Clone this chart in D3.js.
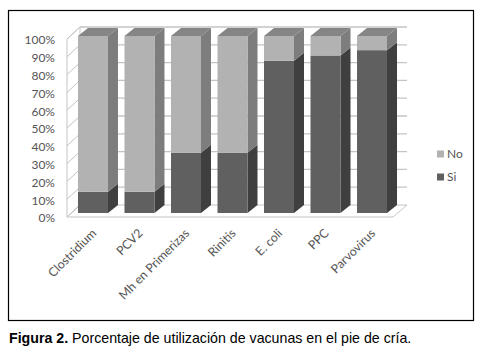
<!DOCTYPE html>
<html><head><meta charset="utf-8">
<script src="https://cdn.jsdelivr.net/npm/d3@7/dist/d3.min.js"></script>
<style>body{margin:0;background:#fff}svg{display:block}</style>
</head><body>
<svg id="c" width="482" height="360"></svg>
<script>
const categories = ["Clostridium","PCV2","Mh en Primerizas","Rinitis","E. coli","PPC","Parvovirus"];
const siValues = [12,12,34,34,86,89,92];
const noValues = [88,88,66,66,14,11,8];
const tickValues = [0,10,20,30,40,50,60,70,80,90,100];
const seriesNames = ["No","Si"];

const svg = d3.select("#c");
const font = "Lato, 'Open Sans', sans-serif";
const col = {
  No: {front:"#b2b2b2", side:"#7d7d7d", top:"#858585"},
  Si: {front:"#606060", side:"#3f3f3f", top:"#6e6e6e"}
};

// frame
svg.append("rect").attr("x",8.5).attr("y",10.5).attr("width",465).attr("height",310)
  .attr("fill","none").attr("stroke","#000").attr("stroke-width",1.2);

// wall geometry
const wx0 = 67, wx1 = 393, ddx = 13, ddy = -12;
const yWall = d3.scaleLinear().domain([0,100]).range([217,39]);
const g = svg.append("g");
const wallStroke = "#c4c4c4";
g.append("path").attr("d",`M${wx0},${yWall(0)}L${wx0},${yWall(100)}L${wx0+ddx},${yWall(100)+ddy}L${wx0+ddx},${yWall(0)+ddy}Z`)
  .attr("fill","#fff").attr("stroke",wallStroke);
g.append("path").attr("d",`M${wx0},${yWall(0)}L${wx1},${yWall(0)}L${wx1+ddx+1},${yWall(0)+ddy}L${wx0+ddx},${yWall(0)+ddy}Z`)
  .attr("fill","#fff").attr("stroke",wallStroke);
g.append("line").attr("x1",wx0+ddx).attr("x2",wx1+ddx+1).attr("y1",yWall(100)+ddy).attr("y2",yWall(100)+ddy)
  .attr("stroke",wallStroke).attr("stroke-width",1.5);
tickValues.forEach(t=>{
  if(t>0 && t<100){
    g.append("line").attr("x1",wx0+ddx).attr("x2",wx1+ddx+1).attr("y1",yWall(t)+ddy).attr("y2",yWall(t)+ddy)
      .attr("stroke",wallStroke).attr("stroke-width",1.3);
  }
  g.append("line").attr("x1",wx0).attr("x2",wx0+ddx).attr("y1",yWall(t)).attr("y2",yWall(t)+ddy)
    .attr("stroke",wallStroke).attr("stroke-width",1);
});

// y axis labels
const yAxis = d3.axisLeft(yWall).tickValues(tickValues).tickFormat(d=>d+"%").tickSize(0).tickPadding(0);
const ya = svg.append("g").attr("transform","translate(55,1)").call(yAxis);
ya.select(".domain").remove();
ya.selectAll("text").attr("font-family",font).attr("font-size","12px").attr("fill","#555");

// bars
const x = d3.scaleBand().domain(categories).range([64.5,400.5]).paddingInner(0.355).paddingOuter(0.29);
const y = d3.scaleLinear().domain([0,100]).range([213,36]);
const bdx = 10, bdy = -8;
const bars = svg.append("g");
categories.forEach((c,i)=>{
  const x0 = x(c), w = x.bandwidth();
  const segs = [
    {name:"Si", lo:0, hi:siValues[i]},
    {name:"No", lo:siValues[i], hi:siValues[i]+noValues[i]}
  ];
  segs.forEach((s,k)=>{
    const yt = y(s.hi), yb = y(s.lo);
    bars.append("path").attr("d",`M${x0+w},${yb}L${x0+w+bdx},${yb+bdy}L${x0+w+bdx},${yt+bdy}L${x0+w},${yt}Z`)
      .attr("fill",col[s.name].side);
    bars.append("rect").attr("x",x0).attr("y",yt).attr("width",w).attr("height",yb-yt)
      .attr("fill",col[s.name].front);
    if(k===1){
      bars.append("path").attr("d",`M${x0},${yt}L${x0+bdx},${yt+bdy}L${x0+w+bdx},${yt+bdy}L${x0+w},${yt}Z`)
        .attr("fill",col[s.name].top);
    }
  });
});

// x labels
const xl = svg.append("g");
categories.forEach(c=>{
  const cx = x(c)+x.bandwidth()/2;
  xl.append("text").attr("transform",`translate(${cx+1},${231}) rotate(-45)`)
    .attr("text-anchor","end").attr("dy","0.35em")
    .attr("font-family",font).attr("font-size","12.3px").attr("fill","#555").text(c);
});

// legend
const lg = svg.append("g");
seriesNames.forEach((n,i)=>{
  const yy = 154 + i*23;
  lg.append("rect").attr("x",437).attr("y",yy-3.5).attr("width",7).attr("height",7).attr("fill",col[n].front);
  lg.append("text").attr("x",447).attr("y",yy).attr("dy","0.35em")
    .attr("font-family",font).attr("font-size","12px").attr("fill","#555").text(n);
});

// caption
const cap = svg.append("text").attr("x",9).attr("y",343).attr("font-family","'Liberation Sans', Arial, sans-serif")
  .attr("font-size","14.2px").attr("fill","#000");
cap.append("tspan").attr("font-weight","bold").text("Figura 2.");
cap.append("tspan").text(" Porcentaje de utilización de vacunas en el pie de cría.");
</script>
</body></html>
